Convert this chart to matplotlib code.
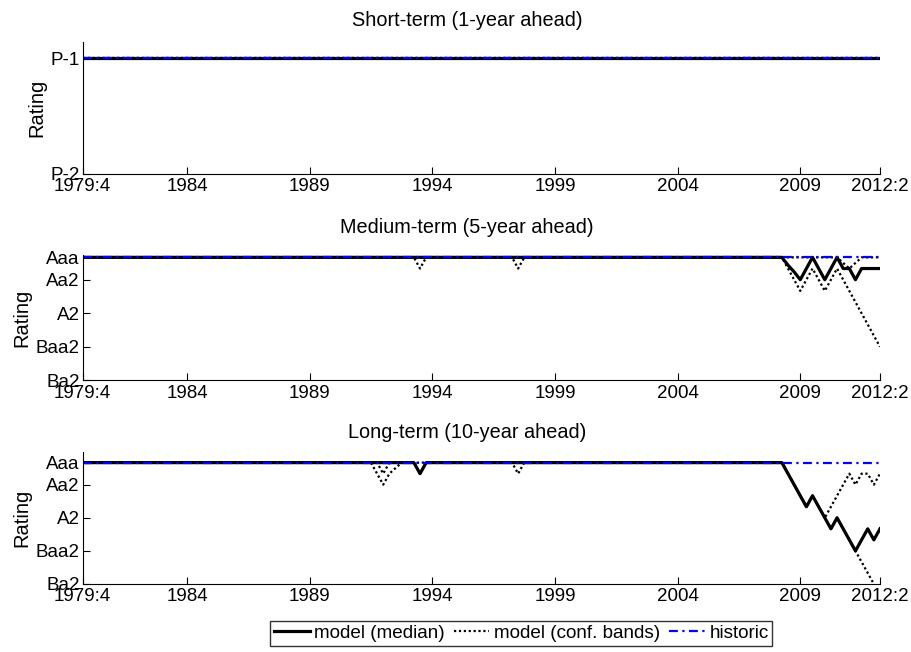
import matplotlib

matplotlib.use('Agg')
import matplotlib.pyplot as plt
import numpy as np

plt.rcParams['font.family'] = ['Liberation Sans', 'DejaVu Sans']

# quarters 1979:4 .. 2012:2 -> 131 observations, index 0..130
n_obs = 131
xtick_pos = [0, 17, 37, 57, 77, 97, 117, 130]
xtick_lab = ['1979:4', '1984', '1989', '1994', '1999', '2004', '2009', '2012:2']

# rating scale (1 = best)
short_ticks = [1, 2]
short_labels = ['P-1', 'P-2']
long_ticks = [1, 3, 6, 9, 12]
long_labels = ['Aaa', 'Aa2', 'A2', 'Baa2', 'Ba2']

# short-term (1-year ahead)
short_median = [1] * n_obs
short_lower = [1] * n_obs
short_upper = [1] * n_obs
short_hist = [1] * n_obs

# medium-term (5-year ahead)
med_median = [1] * 115 + [1.7, 2.3, 3, 2, 1, 2, 3, 2, 1, 2, 2, 3, 2, 2, 2, 2]
med_lower = ([1] * 55 + [2] + [1] * 15 + [2] + [1] * 43
             + [2, 3, 4, 3, 2, 3, 4, 3, 2, 3, 4, 5, 6, 7, 8, 9])
med_upper = [1] * 124 + [1.5, 2, 1.5, 1, 1, 1, 1]
med_hist = [1] * n_obs

# long-term (10-year ahead)
long_median = [1] * 55 + [2] + [1] * 59 + [2, 3, 4, 5, 4, 5, 6, 7, 6, 7, 8, 9, 8, 7, 8, 7]
long_lower = ([1] * 48 + [2, 3, 2, 1.5] + [1] * 3 + [2] + [1] * 15 + [2] + [1] * 43
              + [2, 3, 4, 5, 4, 5, 6, 7, 6, 7, 8, 9, 10, 11, 12, 13])
long_upper = [1] * 49 + [2] + [1] * 65 + [2, 3, 4, 5, 4, 5, 6, 5, 4, 3, 2, 3, 2, 2, 3, 2]
long_hist = [1] * n_obs

panels = [
    ("Short-term (1-year ahead)", short_median, short_lower, short_upper, short_hist,
     short_ticks, short_labels, (2, 0.856), [0.0907, 0.7336, 0.8742, 0.2025], 11.5),
    ("Medium-term (5-year ahead)", med_median, med_lower, med_upper, med_hist,
     long_ticks, long_labels, (12, 0.79), [0.0907, 0.4166, 0.8742, 0.1923], 15.5),
    ("Long-term (10-year ahead)", long_median, long_lower, long_upper, long_hist,
     long_ticks, long_labels, (12, 0.064), [0.0907, 0.1043, 0.8742, 0.2020], 10.5),
]

fs = 13.5
fs_title = 14.3
x = np.arange(n_obs)

fig = plt.figure(figsize=(9.12, 6.52), dpi=100)

for title, med, lo, up, hist, yt, yl, ylim, pos, pad in panels:
    ax = fig.add_axes(pos)
    h1, = ax.plot(x, med, color='black', lw=2.3, ls='-', label='model (median)')
    h2, = ax.plot(x, lo, color='black', lw=1.6, ls=(0, (1, 1.2)), label='model (conf. bands)')
    ax.plot(x, up, color='black', lw=1.6, ls=(0, (1, 1.2)))
    h3, = ax.plot(x, hist, color='#0000ff', lw=1.6, ls=(0, (4, 2, 1, 2)), label='historic')
    ax.set_xlim(0, 130)
    ax.set_ylim(*ylim)
    ax.set_yticks(yt)
    ax.set_yticklabels(yl)
    ax.set_xticks(xtick_pos)
    ax.set_xticklabels(xtick_lab)
    ax.spines['top'].set_visible(False)
    ax.spines['right'].set_visible(False)
    ax.tick_params(direction='in', length=5, width=0.8, labelsize=fs, pad=2)
    ax.tick_params(axis='x', pad=3)
    ax.set_ylabel('Rating', fontsize=14.5, labelpad=3)
    ax.set_title(title, fontsize=fs_title, pad=pad, x=0.482)

leg = fig.legend([h1, h2, h3], ['model (median)', 'model (conf. bands)', 'historic'],
                 loc='upper left', bbox_to_anchor=(270 / 912, 1 - 621 / 652),
                 ncol=3, fontsize=13.6, frameon=True, fancybox=False,
                 handlelength=1.9, handletextpad=0.25, columnspacing=0.45,
                 borderpad=0.2, borderaxespad=0)
leg.get_frame().set_edgecolor('black')
leg.get_frame().set_linewidth(1.0)

fig.savefig('out.png', dpi=100)
